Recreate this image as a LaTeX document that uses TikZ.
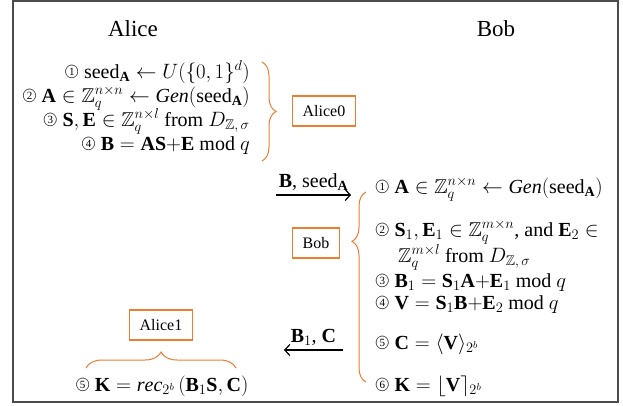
\documentclass[tikz,border=0pt]{standalone}
\usepackage{amsmath,amssymb}
\usepackage{fontspec}
\setmainfont{Liberation Serif}
\usetikzlibrary{decorations.pathreplacing,positioning,arrows.meta}
\definecolor{braceorange}{RGB}{237,125,49}
\newcommand{\cnum}[1]{\raisebox{3pt}{\ooalign{{\fontsize{15}{15}\selectfont$\bigcirc$}\cr
  \hidewidth{\fontsize{11}{11}\selectfont #1}\hidewidth\cr}}}
\tikzset{
  who/.style={font=\rmfamily\fontsize{23}{27}\selectfont, inner sep=0pt},
  stepline/.style={font=\rmfamily\fontsize{20}{23}\selectfont, inner sep=0pt},
  stagebox/.style={draw=braceorange, line width=1.2pt, font=\rmfamily\fontsize{16}{18}\selectfont,
    inner xsep=10pt, minimum height=30pt},
  orangebrace/.style={draw=braceorange, line width=1pt, decorate},
  msg/.style={-{Straight Barb[length=5pt,width=11pt]}, line width=1.2pt,
    font=\rmfamily\fontsize{20}{23}\selectfont}
}
\begin{document}
\begin{tikzpicture}[x=1pt, y=-1pt]
    \useasboundingbox (0,0) rectangle (623,405);
    \draw[line width=1.4pt, gray!60!black] (13,1) rectangle (618,402);

    \node[who, anchor=base] (alice) at (133,36) {Alice};
    \node[who, anchor=base] (bob) at (496,36) {Bob};

    % Alice, first part
    \node[stepline, anchor=base east] (a1) at (250,78) {\cnum{1} seed$_{\mathbf{A}}\leftarrow U(\{0,1\}^d)$};
    \node[stepline, anchor=base east] (a2) at (250,102) {\cnum{2} $\mathbf{A}\in\mathbb{Z}_q^{n\times n}\leftarrow \mathit{Gen}(\text{seed}_{\mathbf{A}})$};
    \node[stepline, anchor=base east] (a3) at (250,126) {\cnum{3} $\mathbf{S},\mathbf{E}\in\mathbb{Z}_q^{n\times l}$ from $D_{\mathbb{Z},\,\sigma}$};
    \node[stepline, anchor=base east] (a4) at (250,150) {\cnum{4} $\mathbf{B}=\mathbf{AS}{+}\mathbf{E}$ mod $q$};
    \draw[orangebrace, decoration={brace, amplitude=14pt, aspect=0.5}] (262,62) -- (262,161);
    \node[stagebox] (alice0) at (324,111) {Alice0};

    % Bob
    \node[stepline, anchor=base west] (b1) at (375,193) {\cnum{1} $\mathbf{A}\in\mathbb{Z}_q^{n\times n}\leftarrow \mathit{Gen}(\text{seed}_{\mathbf{A}})$};
    \node[stepline, anchor=base west] (b2) at (375,236) {\cnum{2} $\mathbf{S}_1,\mathbf{E}_1\in\mathbb{Z}_q^{m\times n}$, and $\mathbf{E}_2\in$};
    \node[stepline, anchor=base west] (b2c) at (398,262) {$\mathbb{Z}_q^{m\times l}$ from $D_{\mathbb{Z},\,\sigma}$};
    \node[stepline, anchor=base west] (b3) at (375,287) {\cnum{3} $\mathbf{B}_1=\mathbf{S}_1\mathbf{A}{+}\mathbf{E}_1$ mod $q$};
    \node[stepline, anchor=base west] (b4) at (375,309) {\cnum{4} $\mathbf{V}=\mathbf{S}_1\mathbf{B}{+}\mathbf{E}_2$ mod $q$};
    \node[stepline, anchor=base west] (b5) at (375,349) {\cnum{5} $\mathbf{C}=\langle\mathbf{V}\rangle_{2^b}$};
    \node[stepline, anchor=base west] (b6) at (375,391) {\cnum{6} $\mathbf{K}=\lfloor\mathbf{V}\rceil_{2^b}$};
    \draw[orangebrace, decoration={brace, amplitude=14pt, aspect=0.74}] (366,382) -- (366,192);
    \node[stagebox] (bobbox) at (316,243) {Bob};

    % Alice, second part
    \node[stagebox] (alice1) at (161,325) {Alice1};
    \draw[orangebrace, decoration={brace, amplitude=16pt, aspect=0.5}] (86,368) -- (236,368);
    \node[stepline, anchor=base] (c5) at (162,391) {\cnum{5} $\mathbf{K}=\mathit{rec}_{2^b}\,(\mathbf{B}_1\mathbf{S},\mathbf{C})$};

    % messages
    \coordinate (send1) at (276,195);
    \coordinate (recv1) at (351,195);
    \coordinate (send2) at (343,350);
    \coordinate (recv2) at (284,350);
    \draw[msg] (send1) -- node[above, inner sep=4pt] {$\mathbf{B}$, seed$_{\mathbf{A}}$} (recv1);
    \draw[msg] (send2) -- node[above, inner sep=4pt] {$\mathbf{B}_1$, $\mathbf{C}$} (recv2);
\end{tikzpicture}
\end{document}
